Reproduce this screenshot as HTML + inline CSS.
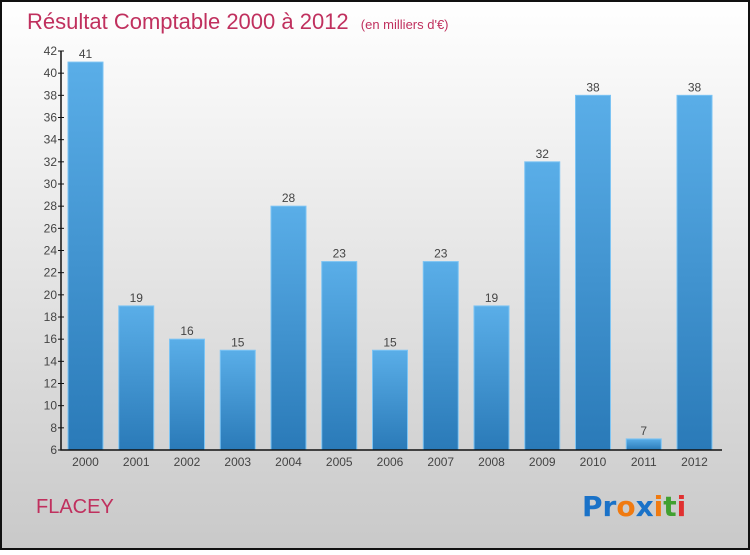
<!DOCTYPE html>
<html><head><meta charset="utf-8"><style>
body{margin:0;width:750px;height:550px;overflow:hidden;font-family:"Liberation Sans",sans-serif}
</style></head><body>
<svg width="750" height="550">
<defs>
<linearGradient id="bg" x1="0" y1="0" x2="0" y2="1"><stop offset="0" stop-color="#ffffff"/><stop offset="1" stop-color="#c9c9c9"/></linearGradient>
<linearGradient id="bar" x1="0" y1="0" x2="0" y2="1"><stop offset="0" stop-color="#5aaee8"/><stop offset="1" stop-color="#2a7ab8"/></linearGradient>
</defs>
<rect x="1" y="1" width="748" height="548" fill="url(#bg)" stroke="#111" stroke-width="2"/>
<text x="27" y="29" font-size="22" fill="#c0305e">Résultat Comptable 2000 à 2012 <tspan font-size="13" dx="6">(en milliers d'€)</tspan></text>
<g id="plot"></g>
<text x="36" y="513" font-size="20" fill="#c0305e">FLACEY</text>
<text x="582" y="516" font-size="28" font-family="DejaVu Sans" font-weight="bold"><tspan fill="#1a72c8">Pr</tspan><tspan fill="#f07a10">o</tspan><tspan fill="#1a72c8">x</tspan><tspan fill="#f07a10">i</tspan><tspan fill="#40a030">t</tspan><tspan fill="#e03030">i</tspan></text>
</svg>
<script>
const categories=["2000","2001","2002","2003","2004","2005","2006","2007","2008","2009","2010","2011","2012"];
const values=[41,19,16,15,28,23,15,23,19,32,38,7,38];
const yTicks=[6,8,10,12,14,16,18,20,22,24,26,28,30,32,34,36,38,40,42];
const ns="http://www.w3.org/2000/svg",g=document.getElementById('plot');
const yMin=6,yMax=42,plotTop=51,plotBot=450;
const y=v=>plotBot-(v-yMin)/(yMax-yMin)*(plotBot-plotTop);
const x=i=>68+i*50.75;
function mk(t,a,txt){const e=document.createElementNS(ns,t);for(const k in a)e.setAttribute(k,a[k]);if(txt!==undefined)e.textContent=txt;g.appendChild(e);return e;}
values.forEach((v,i)=>{
 const r=mk('rect',{x:x(i),y:y(v),width:35,height:plotBot-y(v),fill:'url(#bar)',stroke:'#7cc4f4','stroke-width':1});
 
 
 const t=mk('text',{x:x(i)+17.5,y:y(v)-4,'font-size':12,fill:'#444','text-anchor':'middle'},v);
 
 
 const c=mk('text',{x:x(i)+17.5,y:466,'font-size':12,fill:'#444','text-anchor':'middle'},categories[i]);
 
 
});
const ax=mk('path',{d:`M61,${plotTop}V${plotBot}H722`,stroke:'#111','stroke-width':1.5,fill:'none'});


yTicks.forEach(v=>{
 mk('line',{x1:58,x2:64,y1:y(v),y2:y(v),stroke:'#111'});
 const t=mk('text',{x:57,y:y(v)+4,'font-size':12,fill:'#444','text-anchor':'end'},v);
 
 
});
</script>
</body></html>
